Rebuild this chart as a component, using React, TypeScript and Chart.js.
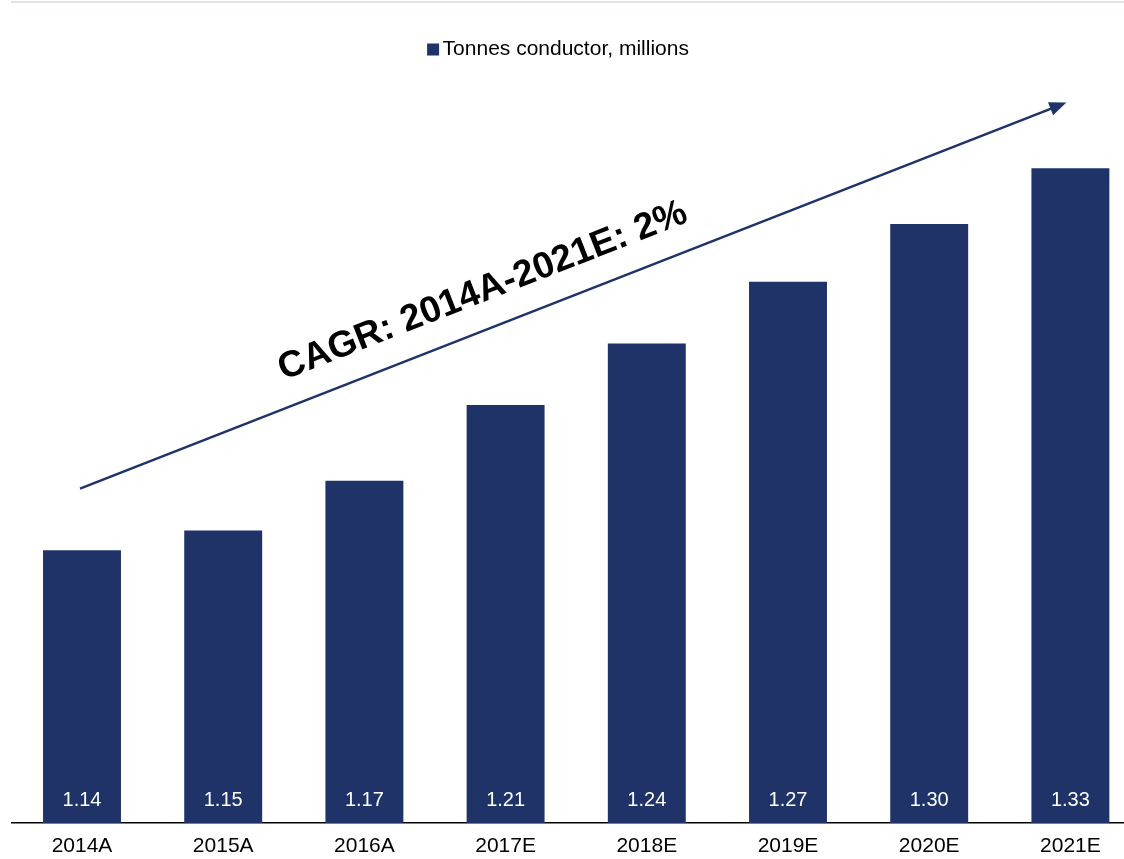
import React, { useEffect, useRef } from "react";
import { Chart, registerables } from "chart.js";

Chart.register(...registerables);

// ---- data ----
const categories = ["2014A", "2015A", "2016A", "2017E", "2018E", "2019E", "2020E", "2021E"];
const tonnes = [1.137, 1.147, 1.172, 1.21, 1.241, 1.272, 1.301, 1.329];
const seriesLabel = "Tonnes conductor, millions";
const cagrLabel = "CAGR: 2014A-2021E: 2%";
const yMin = 1.0;
const yMax = 1.35;
// arrow annotation anchored in data space: [category index, value]
const arrowFrom = [0, 1.168];
const arrowTo = [7, 1.362];

const NAVY = "#1F3369";
const FONT = "'Liberation Sans', Arial, Helvetica, sans-serif";

const decorPlugin = {
  id: "decor",
  afterDatasetsDraw(chart: any) {
    const { ctx } = chart;
    const meta = chart.getDatasetMeta(0);
    const basePx = chart.scales.y.getPixelForValue(yMin);
    ctx.save();
    ctx.font = `20px ${FONT}`;
    ctx.fillStyle = "#ffffff";
    ctx.textAlign = "center";
    ctx.textBaseline = "middle";
    meta.data.forEach((bar: any, i: number) => {
      ctx.fillText(tonnes[i].toFixed(2), bar.x, basePx - 23);
    });
    ctx.restore();
  },
  afterDraw(chart: any) {
    const { ctx, scales } = chart;
    const xs = scales.x;
    const ys = scales.y;
    ctx.save();

    // thin top rule
    ctx.strokeStyle = "#D3D8E8";
    ctx.lineWidth = 1.5;
    ctx.beginPath();
    ctx.moveTo(11, 2);
    ctx.lineTo(chart.width, 2);
    ctx.stroke();

    // legend
    ctx.font = `21px ${FONT}`;
    const tw = ctx.measureText(seriesLabel).width;
    const total = 12 + 3.5 + tw;
    const lx = 558 - total / 2;
    const ly = 49.5;
    ctx.fillStyle = NAVY;
    ctx.fillRect(lx, ly - 6, 12, 12);
    ctx.fillStyle = "#000000";
    ctx.textAlign = "left";
    ctx.textBaseline = "middle";
    ctx.fillText(seriesLabel, lx + 15.5, ly);

    // arrow
    const x0 = xs.getPixelForValue(arrowFrom[0]) - 2;
    const y0 = ys.getPixelForValue(arrowFrom[1]);
    const x1 = xs.getPixelForValue(arrowTo[0]) - 4;
    const y1 = ys.getPixelForValue(arrowTo[1]);
    const ang = Math.atan2(y1 - y0, x1 - x0);
    const dx = Math.cos(ang);
    const dy = Math.sin(ang);
    const headLen = 17;
    const headHalf = 7;
    ctx.strokeStyle = NAVY;
    ctx.lineWidth = 2.5;
    ctx.beginPath();
    ctx.moveTo(x0, y0);
    ctx.lineTo(x1 - dx * (headLen - 2), y1 - dy * (headLen - 2));
    ctx.stroke();
    ctx.fillStyle = NAVY;
    ctx.beginPath();
    ctx.moveTo(x1, y1);
    ctx.lineTo(x1 - dx * headLen - dy * headHalf, y1 - dy * headLen + dx * headHalf);
    ctx.lineTo(x1 - dx * headLen + dy * headHalf, y1 - dy * headLen - dx * headHalf);
    ctx.closePath();
    ctx.fill();

    // CAGR text along the arrow
    const t = 0.422;
    const px = x0 + t * (x1 - x0);
    const py = y0 + t * (y1 - y0);
    const off = 37;
    const cx = px + dy * off;
    const cy = py - dx * off;
    ctx.translate(cx, cy);
    ctx.rotate(ang);
    ctx.font = `bold 37px ${FONT}`;
    ctx.fillStyle = "#000000";
    ctx.textAlign = "center";
    ctx.textBaseline = "middle";
    ctx.fillText(cagrLabel, 0, 0);
    ctx.restore();
  },
};

export default function App() {
  const canvasRef = useRef<HTMLCanvasElement | null>(null);

  useEffect(() => {
    if (!canvasRef.current) return;
    const chart = new Chart(canvasRef.current, {
      type: "bar",
      data: {
        labels: categories,
        datasets: [
          {
            label: seriesLabel,
            data: tonnes,
            backgroundColor: NAVY,
            borderWidth: 0,
            categoryPercentage: 1,
            barPercentage: 0.552,
          },
        ],
      },
      options: {
        responsive: true,
        maintainAspectRatio: false,
        animation: false,
        devicePixelRatio: 1,
        layout: { padding: { left: 11.4, right: 0, top: 126.5, bottom: 0 } },
        plugins: {
          legend: { display: false },
          tooltip: { enabled: false },
          title: { display: false },
        },
        scales: {
          x: {
            type: "category",
            offset: true,
            grid: { display: false, drawTicks: false },
            border: { display: true, color: "#000000", width: 1.5 },
            ticks: {
              color: "#000000",
              font: { family: FONT, size: 21 },
              padding: 11,
              maxRotation: 0,
              autoSkip: false,
            },
            afterFit: (scale: any) => {
              scale.height = 36;
            },
          },
          y: {
            display: false,
            min: yMin,
            max: yMax,
          },
        },
      },
      plugins: [decorPlugin],
    });
    return () => chart.destroy();
  }, []);

  return (
    <div
      style={{
        position: "fixed",
        left: 0,
        top: 0,
        width: 1124,
        height: 859,
        overflow: "hidden",
        background: "#ffffff",
      }}
    >
      <div style={{ position: "relative", width: 1141, height: 859 }}>
        <canvas ref={canvasRef} />
      </div>
    </div>
  );
}
